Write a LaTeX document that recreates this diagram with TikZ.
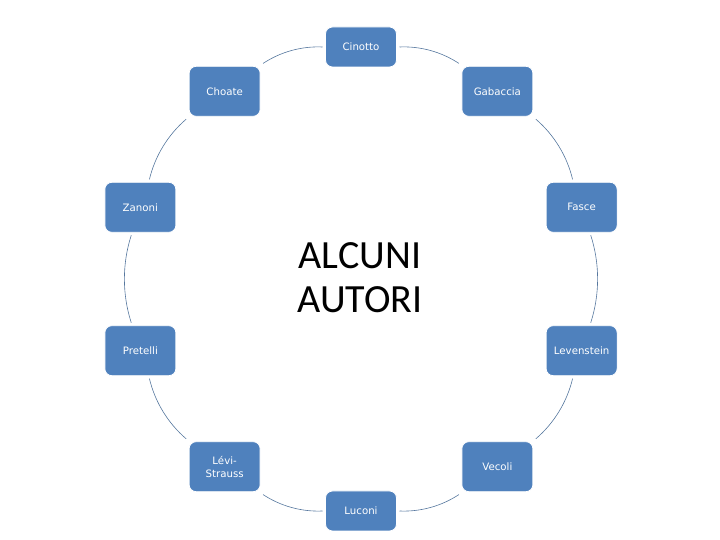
\documentclass[tikz,border=0pt]{standalone}
\usepackage{fontspec}
\setmainfont{Carlito}
\newfontfamily\boxfont{DejaVu Sans}
\usetikzlibrary{calc}
\definecolor{nodeblue}{HTML}{4F81BD}
\definecolor{linkcol}{HTML}{56779E}
\begin{document}
\begin{tikzpicture}[x=1pt,y=1pt,
  authorbox/.style={fill=nodeblue, draw=white, line width=0.8pt, rounded corners=7pt,
    minimum width=71pt, minimum height=50pt, inner sep=2pt, outer sep=3pt,
    text=white, font=\boxfont\fontsize{10.2}{13}\selectfont, align=center},
  flatbox/.style={authorbox, minimum height=40pt},
  link/.style={draw=linkcol, line width=0.6pt, bend left=18, looseness=0.87}]
\useasboundingbox (0,0) rectangle (720,540);
\coordinate (c) at (361,261);
\node[flatbox]   (cin) at ($(c)+(90:232)$)   {Cinotto};
\node[authorbox] (gab) at ($(c)+(54:232)$)   {Gabaccia};
\node[authorbox] (fas) at ($(c)+(18:232)$)   {Fasce};
\node[authorbox] (lev) at ($(c)+(-18:232)$)  {Levenstein};
\node[authorbox] (vec) at ($(c)+(-54:232)$)  {Vecoli};
\node[flatbox]   (luc) at ($(c)+(-90:232)$)  {Luconi};
\node[authorbox] (lst) at ($(c)+(-126:232)$) {Lévi-\\Strauss};
\node[authorbox] (pre) at ($(c)+(-162:232)$) {Pretelli};
\node[authorbox] (zan) at ($(c)+(162:232)$)  {Zanoni};
\node[authorbox] (cho) at ($(c)+(126:232)$)  {Choate};
\node[font=\fontsize{40}{44}\selectfont, align=center] (title) at (360,262.5) {ALCUNI\\AUTORI};
\draw[link] (cin) to (gab);
\draw[link] (gab) to (fas);
\draw[link] (fas) to (lev);
\draw[link] (lev) to (vec);
\draw[link] (vec) to (luc);
\draw[link] (luc) to (lst);
\draw[link] (lst) to (pre);
\draw[link] (pre) to (zan);
\draw[link] (zan) to (cho);
\draw[link] (cho) to (cin);
\end{tikzpicture}
\end{document}
